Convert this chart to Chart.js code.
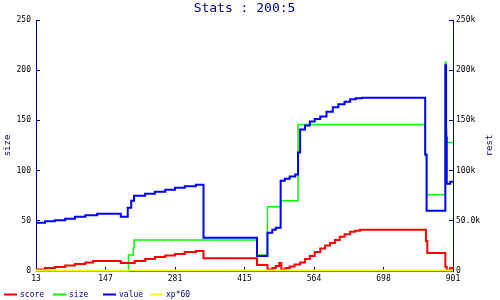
<!DOCTYPE html>
<html>
<head>
<meta charset="utf-8">
<title>Stats : 200:5</title>
<script src="https://cdn.jsdelivr.net/npm/chart.js@4"></script>
<style>
  body { margin: 0; background: #fff; }
  canvas { display: block; }
</style>
</head>
<body>
<canvas id="statsChart" width="500" height="300"></canvas>
<script>
// x positions are in tick units (0 = first tick "13", 6 = last tick "901")
const xLabels = ['13', '147', '281', '415', '564', '698', '901'];
const leftTicks = ['0', '50', '100', '150', '200', '250'];
const rightTicks = ['0', '50.0k', '100k', '150k', '200k', '250k'];

const scoreX = [0, 0.13, 0.27, 0.42, 0.56, 0.71, 0.82, 1.22, 1.32, 1.42, 1.57, 1.71, 1.86, 2.00, 2.14, 2.30, 2.41, 3.18, 3.33, 3.40, 3.45, 3.50, 3.53, 3.59, 3.65, 3.72, 3.80, 3.87, 3.94, 4.01, 4.09, 4.16, 4.23, 4.30, 4.37, 4.44, 4.52, 4.59, 4.66, 5.61, 5.63, 5.89, 5.91, 5.96, 6];
const scoreY = [1.5, 3, 4, 5.5, 7, 8.5, 10, 8, 8, 10, 12, 14, 15.5, 17, 19, 20, 12.7, 6, 1.5, 3, 5, 8, 1.5, 3, 4.5, 6.5, 8.5, 12, 15, 19, 22.5, 25.5, 28, 31, 34, 36.5, 39, 40, 41, 30, 18, 4, 0.5, 3, 4];

const sizeX = [0, 1.33, 1.40, 1.41, 3.18, 3.33, 3.52, 3.77, 5.60, 5.62, 5.89, 5.90, 5.91, 6];
const sizeY = [0, 16, 23, 31, 16, 64, 70, 146, 115, 76, 208, 141, 128, 128];

const valueX = [0, 0.13, 0.27, 0.42, 0.56, 0.71, 0.88, 1.22, 1.32, 1.37, 1.41, 1.57, 1.71, 1.86, 2.00, 2.14, 2.30, 2.41, 3.18, 3.33, 3.40, 3.45, 3.52, 3.58, 3.65, 3.73, 3.77, 3.80, 3.87, 3.94, 4.01, 4.09, 4.18, 4.27, 4.35, 4.44, 4.52, 4.60, 4.69, 5.60, 5.62, 5.89, 5.90, 5.91, 5.96, 6];
const valueY = [48000, 49500, 50500, 52000, 54000, 55500, 57000, 54000, 63000, 70000, 75000, 77000, 79000, 81000, 83000, 84500, 86000, 33000, 15000, 38000, 41000, 43000, 90000, 92000, 94000, 96000, 118000, 141000, 145000, 149000, 151500, 154000, 158500, 163000, 166000, 168500, 171000, 172000, 172500, 116000, 60000, 205000, 133000, 87000, 89000, 89000];

const xpX = [0, 6];
const xpY = [600, 600];

const navy = '#000080';
const mono = '"DejaVu Sans Mono", monospace';
const legendX = [4, 53, 103, 150];

function points(xs, ys) {
    return xs.map((x, i) => ({ x: x, y: ys[i] }));
}

// legend along the bottom and the right axis title (reads bottom to top)
const extras = {
    id: 'extras',
    afterDraw(chart) {
        const ctx = chart.ctx;
        ctx.save();
        ctx.font = '8px ' + mono;
        ctx.textBaseline = 'middle';
        chart.data.datasets.forEach((ds, i) => {
            const x = legendX[i];
            ctx.strokeStyle = ds.borderColor;
            ctx.lineWidth = 2;
            ctx.beginPath();
            ctx.moveTo(x, 294.5);
            ctx.lineTo(x + 13, 294.5);
            ctx.stroke();
            ctx.fillStyle = navy;
            ctx.fillText(ds.label, x + 16, 295);
        });
        const area = chart.chartArea;
        ctx.font = '9px ' + mono;
        ctx.textAlign = 'center';
        ctx.translate(490, (area.top + area.bottom) / 2);
        ctx.rotate(-Math.PI / 2);
        ctx.fillText('rest', 0, 0);
        ctx.restore();
    }
};

const ctx = document.getElementById('statsChart').getContext('2d');
new Chart(ctx, {
    type: 'line',
    data: {
        datasets: [
            { label: 'score', data: points(scoreX, scoreY), borderColor: '#ff0000', yAxisID: 'y', order: 1 },
            { label: 'size', data: points(sizeX, sizeY), borderColor: '#00ff00', borderWidth: 1.5, yAxisID: 'y', order: 3 },
            { label: 'value', data: points(valueX, valueY), borderColor: '#0000ff', yAxisID: 'y1', order: 2 },
            { label: 'xp*60', data: points(xpX, xpY), borderColor: '#ffff00', yAxisID: 'y1', order: 0 }
        ]
    },
    options: {
        responsive: false,
        animation: false,
        events: [],
        datasets: {
            line: { stepped: true, pointRadius: 0, borderWidth: 2, fill: false, clip: false }
        },
        layout: { padding: 0 },
        plugins: {
            legend: { display: false },
            tooltip: { enabled: false },
            title: {
                display: true,
                fullSize: false,
                text: 'Stats : 200:5',
                color: navy,
                font: { family: mono, size: 13, weight: 'normal' },
                padding: { top: 1, bottom: 3.4 }
            }
        },
        scales: {
            x: {
                type: 'linear',
                min: 0,
                max: 6,
                ticks: {
                    stepSize: 1,
                    color: '#000',
                    font: { family: mono, size: 8 },
                    padding: 7,
                    maxRotation: 0,
                    callback: v => xLabels[v]
                },
                grid: { drawOnChartArea: false, tickLength: -4, color: navy },
                border: { color: navy, width: 1 },
                afterFit: s => { s.height = 29; }
            },
            y: {
                position: 'left',
                min: 0,
                max: 250,
                ticks: {
                    stepSize: 50,
                    color: '#000',
                    font: { family: mono, size: 8 },
                    padding: 9,
                    callback: v => leftTicks[v / 50]
                },
                grid: { drawOnChartArea: false, tickLength: -4, color: navy },
                border: { color: navy, width: 1 },
                title: {
                    display: true,
                    text: 'size',
                    color: navy,
                    font: { family: mono, size: 9 },
                    padding: { top: 2, bottom: 0 }
                },
                afterFit: s => { s.width = 36; }
            },
            y1: {
                position: 'right',
                min: 0,
                max: 250000,
                ticks: {
                    stepSize: 50000,
                    color: '#000',
                    font: { family: mono, size: 8 },
                    padding: 7,
                    callback: v => rightTicks[v / 50000]
                },
                grid: { drawOnChartArea: false, tickLength: -4, color: navy },
                border: { color: navy, width: 1 },
                afterFit: s => { s.width = 47; }
            }
        }
    },
    plugins: [extras]
});
</script>
</body>
</html>
